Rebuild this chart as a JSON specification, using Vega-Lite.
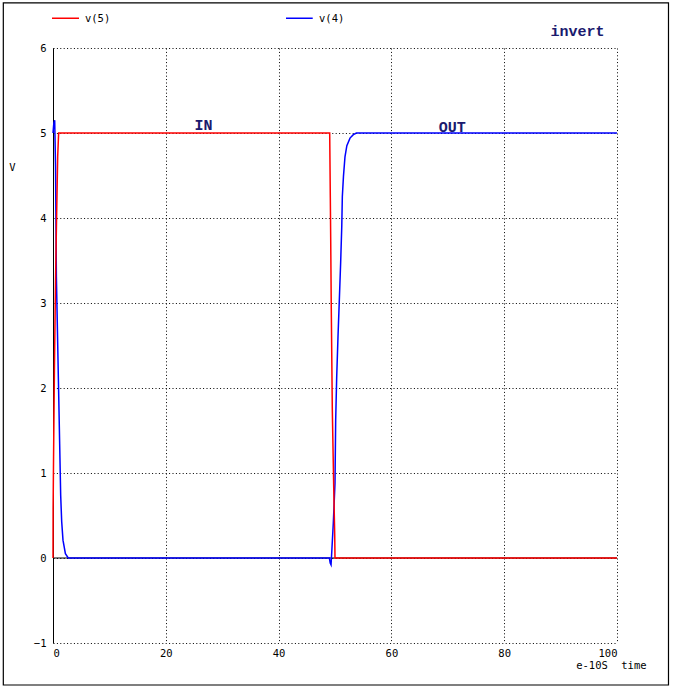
{
  "$schema": "https://vega.github.io/schema/vega-lite/v6.json",
  "width": 564,
  "height": 595,
  "autosize": {"type": "none"},
  "padding": {"left": 53, "top": 48, "right": 57, "bottom": 46},
  "background": "white",
  "config": {
    "view": {"stroke": null},
    "font": "DejaVu Sans Mono",
    "axis": {
      "gridColor": "black", "gridDash": [1, 2.4], "gridWidth": 1, "gridOpacity": 1,
      "labelFont": "DejaVu Sans Mono", "labelFontSize": 10.5, "labelColor": "black", "labelFontWeight": "normal",
      "ticks": false, "title": null
    }
  },
  "datasets": {
    "one": [{}],
    "traces": [
      {"t": 0, "v": 5.0, "s": "v(4)"},
      {"t": 0.15, "v": 5.12, "s": "v(4)"},
      {"t": 0.3, "v": 5.15, "s": "v(4)"},
      {"t": 0.45, "v": 4.6, "s": "v(4)"},
      {"t": 0.6, "v": 3.31, "s": "v(4)"},
      {"t": 0.95, "v": 2.12, "s": "v(4)"},
      {"t": 1.18, "v": 1.35, "s": "v(4)"},
      {"t": 1.36, "v": 0.74, "s": "v(4)"},
      {"t": 1.54, "v": 0.43, "s": "v(4)"},
      {"t": 1.77, "v": 0.21, "s": "v(4)"},
      {"t": 2.2, "v": 0.05, "s": "v(4)"},
      {"t": 2.7, "v": 0.0, "s": "v(4)"},
      {"t": 49.0, "v": 0.0, "s": "v(4)"},
      {"t": 49.15, "v": -0.06, "s": "v(4)"},
      {"t": 49.3, "v": -0.08, "s": "v(4)"},
      {"t": 49.45, "v": 0.1, "s": "v(4)"},
      {"t": 49.7, "v": 0.41, "s": "v(4)"},
      {"t": 50.0, "v": 0.88, "s": "v(4)"},
      {"t": 50.12, "v": 1.62, "s": "v(4)"},
      {"t": 50.3, "v": 2.13, "s": "v(4)"},
      {"t": 50.53, "v": 2.6, "s": "v(4)"},
      {"t": 50.77, "v": 3.04, "s": "v(4)"},
      {"t": 51.0, "v": 3.47, "s": "v(4)"},
      {"t": 51.2, "v": 3.9, "s": "v(4)"},
      {"t": 51.3, "v": 4.25, "s": "v(4)"},
      {"t": 51.5, "v": 4.49, "s": "v(4)"},
      {"t": 51.77, "v": 4.72, "s": "v(4)"},
      {"t": 52.1, "v": 4.85, "s": "v(4)"},
      {"t": 52.66, "v": 4.94, "s": "v(4)"},
      {"t": 53.25, "v": 4.98, "s": "v(4)"},
      {"t": 53.8, "v": 5.0, "s": "v(4)"},
      {"t": 100, "v": 5.0, "s": "v(4)"},
      {"t": 0, "v": 0, "s": "v(5)"},
      {"t": 0.02, "v": 0.59, "s": "v(5)"},
      {"t": 0.1, "v": 1.19, "s": "v(5)"},
      {"t": 0.25, "v": 2.2, "s": "v(5)"},
      {"t": 0.45, "v": 3.27, "s": "v(5)"},
      {"t": 0.65, "v": 4.06, "s": "v(5)"},
      {"t": 0.83, "v": 4.72, "s": "v(5)"},
      {"t": 1.0, "v": 5.0, "s": "v(5)"},
      {"t": 49.06, "v": 5.0, "s": "v(5)"},
      {"t": 49.17, "v": 4.24, "s": "v(5)"},
      {"t": 49.24, "v": 3.74, "s": "v(5)"},
      {"t": 49.34, "v": 2.94, "s": "v(5)"},
      {"t": 49.52, "v": 1.76, "s": "v(5)"},
      {"t": 49.77, "v": 0.84, "s": "v(5)"},
      {"t": 49.95, "v": 0.27, "s": "v(5)"},
      {"t": 50.0, "v": 0.0, "s": "v(5)"},
      {"t": 100, "v": 0.0, "s": "v(5)"}
    ]
  },
  "data": {"name": "one"},
  "layer": [
    {
      "mark": {"type": "rule", "color": "black", "strokeWidth": 1},
      "encoding": {
        "y": {"datum": 0, "type": "quantitative", "scale": {"domain": [-1, 6], "nice": false, "zero": false},
              "axis": {"values": [-1, 0, 1, 2, 3, 4, 5, 6], "format": "d", "domain": true, "domainColor": "black", "domainWidth": 1, "labelPadding": 7, "grid": true}}
      }
    },
    {
      "data": {"name": "traces"},
      "mark": {"type": "line", "strokeWidth": 1.5, "interpolate": "linear"},
      "encoding": {
        "x": {"field": "t", "type": "quantitative", "scale": {"domain": [0, 100], "nice": false, "zero": false},
              "axis": {"values": [0, 20, 40, 60, 80, 100], "format": "d", "domain": false, "labelPadding": 5, "grid": true}},
        "y": {"field": "v", "type": "quantitative", "scale": {"domain": [-1, 6], "nice": false, "zero": false}},
        "color": {"field": "s", "type": "nominal", "scale": {"domain": ["v(5)", "v(4)"], "range": ["#ff0000", "#0000ff"]}, "legend": null},
        "order": {"field": "t", "type": "quantitative"}
      }
    },
    {
      "mark": {"type": "rect", "fill": null, "stroke": "black", "strokeWidth": 1.2},
      "encoding": {
        "x": {"datum": -8.81, "type": "quantitative", "scale": {"domain": [0, 100], "nice": false, "zero": false}},
        "x2": {"datum": 109.13},
        "y": {"datum": 6.53, "type": "quantitative", "scale": {"domain": [-1, 6], "nice": false, "zero": false}},
        "y2": {"datum": -1.494}
      }
    },
    {
      "mark": {"type": "rule", "strokeWidth": 1.5},
      "encoding": {
        "x": {"datum": -0.18, "type": "quantitative", "scale": {"domain": [0, 100], "nice": false, "zero": false}},
        "x2": {"datum": 4.61},
        "y": {"datum": 6.35, "type": "quantitative", "scale": {"domain": [-1, 6], "nice": false, "zero": false}},
        "color": {"datum": "v(5)", "type": "nominal", "scale": {"domain": ["v(5)", "v(4)"], "range": ["#ff0000", "#0000ff"]}, "legend": null}
      }
    },
    {
      "mark": {"type": "rule", "strokeWidth": 1.5},
      "encoding": {
        "x": {"datum": 41.31, "type": "quantitative", "scale": {"domain": [0, 100], "nice": false, "zero": false}},
        "x2": {"datum": 46.05},
        "y": {"datum": 6.35, "type": "quantitative", "scale": {"domain": [-1, 6], "nice": false, "zero": false}},
        "color": {"datum": "v(4)", "type": "nominal", "scale": {"domain": ["v(5)", "v(4)"], "range": ["#ff0000", "#0000ff"]}, "legend": null}
      }
    },
    {
      "mark": {"type": "text", "text": "v(5)", "align": "left", "baseline": "middle", "fontSize": 10.5, "font": "DejaVu Sans Mono", "fill": "black"},
      "encoding": {
        "x": {"datum": 5.67, "type": "quantitative", "scale": {"domain": [0, 100], "nice": false, "zero": false}},
        "y": {"datum": 6.341, "type": "quantitative", "scale": {"domain": [-1, 6], "nice": false, "zero": false}}
      }
    },
    {
      "mark": {"type": "text", "text": "v(4)", "align": "left", "baseline": "middle", "fontSize": 10.5, "font": "DejaVu Sans Mono", "fill": "black"},
      "encoding": {
        "x": {"datum": 47.16, "type": "quantitative", "scale": {"domain": [0, 100], "nice": false, "zero": false}},
        "y": {"datum": 6.341, "type": "quantitative", "scale": {"domain": [-1, 6], "nice": false, "zero": false}}
      }
    },
    {
      "mark": {"type": "text", "text": "V", "align": "center", "baseline": "middle", "fontSize": 10.5, "font": "DejaVu Sans Mono", "fill": "black"},
      "encoding": {
        "x": {"datum": -7.18, "type": "quantitative", "scale": {"domain": [0, 100], "nice": false, "zero": false}},
        "y": {"datum": 4.594, "type": "quantitative", "scale": {"domain": [-1, 6], "nice": false, "zero": false}}
      }
    },
    {
      "mark": {"type": "text", "text": "e-10S", "align": "center", "baseline": "middle", "fontSize": 10.5, "font": "DejaVu Sans Mono", "fill": "black"},
      "encoding": {
        "x": {"datum": 95.57, "type": "quantitative", "scale": {"domain": [0, 100], "nice": false, "zero": false}},
        "y": {"datum": -1.27, "type": "quantitative", "scale": {"domain": [-1, 6], "nice": false, "zero": false}}
      }
    },
    {
      "mark": {"type": "text", "text": "time", "align": "center", "baseline": "middle", "fontSize": 10.5, "font": "DejaVu Sans Mono", "fill": "black"},
      "encoding": {
        "x": {"datum": 103.0, "type": "quantitative", "scale": {"domain": [0, 100], "nice": false, "zero": false}},
        "y": {"datum": -1.27, "type": "quantitative", "scale": {"domain": [-1, 6], "nice": false, "zero": false}}
      }
    },
    {
      "mark": {"type": "text", "text": "IN", "align": "center", "baseline": "middle", "fontSize": 15, "font": "Liberation Mono", "fontWeight": "bold", "fill": "#1a1a6e"},
      "encoding": {
        "x": {"datum": 26.7, "type": "quantitative", "scale": {"domain": [0, 100], "nice": false, "zero": false}},
        "y": {"datum": 5.094, "type": "quantitative", "scale": {"domain": [-1, 6], "nice": false, "zero": false}}
      }
    },
    {
      "mark": {"type": "text", "text": "OUT", "align": "center", "baseline": "middle", "fontSize": 15, "font": "Liberation Mono", "fontWeight": "bold", "fill": "#1a1a6e"},
      "encoding": {
        "x": {"datum": 70.78, "type": "quantitative", "scale": {"domain": [0, 100], "nice": false, "zero": false}},
        "y": {"datum": 5.07, "type": "quantitative", "scale": {"domain": [-1, 6], "nice": false, "zero": false}}
      }
    },
    {
      "mark": {"type": "text", "text": "invert", "align": "center", "baseline": "middle", "fontSize": 15, "font": "Liberation Mono", "fontWeight": "bold", "fill": "#1a1a6e"},
      "encoding": {
        "x": {"datum": 93.0, "type": "quantitative", "scale": {"domain": [0, 100], "nice": false, "zero": false}},
        "y": {"datum": 6.2, "type": "quantitative", "scale": {"domain": [-1, 6], "nice": false, "zero": false}}
      }
    }
  ]
}
